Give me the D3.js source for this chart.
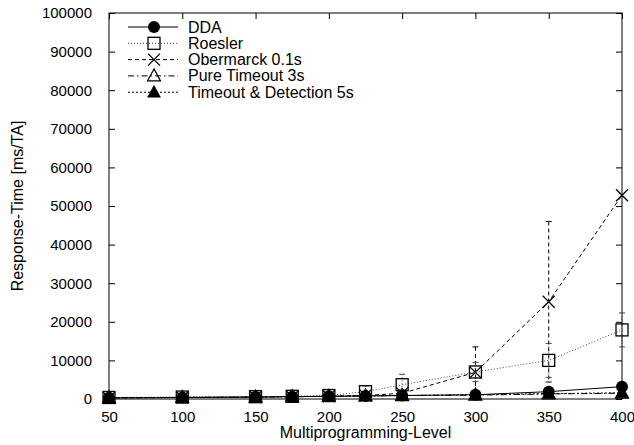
<!DOCTYPE html>
<html>
<head>
<meta charset="utf-8">
<script src="https://cdn.jsdelivr.net/npm/d3@7"></script>
<style>
  html, body { margin: 0; padding: 0; background: #fff; }
  svg text { font-family: "Liberation Sans", Arial, Helvetica, sans-serif; fill: #000; }
</style>
</head>
<body>
<svg id="chart" width="634" height="445"></svg>
<script>
// Multiprogramming levels measured
const levels = [50, 100, 150, 175, 200, 225, 250, 300, 350, 400];

// Mean response time per transaction [ms/TA]
const dda        = [300, 400, 500, 600, 700, 800, 900, 1100, 1900, 3200];
const roesler    = [400, 500, 600, 700, 900, 1900, 3700, 7000, 10000, 17900];
const obermarck  = [300, 400, 500, 600, 700, 900, 1500, 6900, 25200, 52800];
const pureTo     = [300, 400, 500, 600, 700, 800, 900, 1000, 1300, 1500];
const toDetect   = [300, 400, 500, 600, 700, 800, 900, 1100, 1400, 1600];

// Half-widths of the error bars
const ddaErr       = [0, 0, 0, 0, 100, 100, 100, 200, 300, 400];
const roeslerErr   = [0, 0, 100, 100, 300, 1500, 2700, 2500, 4400, 4400];
const obermarckErr = [0, 0, 0, 100, 200, 300, 800, 6600, 20800, 0];
const pureToErr    = [0, 0, 0, 0, 0, 0, 100, 100, 200, 200];
const toDetectErr  = [0, 0, 0, 0, 0, 0, 100, 100, 200, 200];

const seriesNames = ["DDA", "Roesler", "Obermarck 0.1s", "Pure Timeout 3s", "Timeout & Detection 5s"];
const xTicks = [50, 100, 150, 200, 250, 300, 350, 400];
const yTicks = [0, 10000, 20000, 30000, 40000, 50000, 60000, 70000, 80000, 90000, 100000];

const series = [
  { name: seriesNames[0], values: dda,       err: ddaErr,       dash: null,        stroke: "#000", marker: "circle" },
  { name: seriesNames[1], values: roesler,   err: roeslerErr,   dash: "1,2",       stroke: "#444", marker: "square" },
  { name: seriesNames[2], values: obermarck, err: obermarckErr, dash: "4,3",       stroke: "#000", marker: "cross" },
  { name: seriesNames[3], values: pureTo,    err: pureToErr,    dash: "6,3,1.5,3", stroke: "#000", marker: "triOpen" },
  { name: seriesNames[4], values: toDetect,  err: toDetectErr,  dash: "2,2",       stroke: "#000", marker: "triFill" }
];

const svg = d3.select("#chart");
const box = { left: 109, right: 622, top: 13, bottom: 399 };
const fs = 16;      // titles and legend
const tickFs = 15;  // tick labels

const x = d3.scaleLinear().domain([50, 400]).range([box.left, box.right]);
const y = d3.scaleLinear().domain([0, 100000]).range([box.bottom, box.top]);

const g = svg.append("g");

// plot frame
g.append("rect")
  .attr("x", box.left).attr("y", box.top)
  .attr("width", box.right - box.left).attr("height", box.bottom - box.top)
  .attr("fill", "none").attr("stroke", "#000").attr("stroke-width", 1);

// inward ticks on all four sides
const tl = 6;
const bottomAxis = d3.axisBottom(x).tickValues(xTicks).tickSize(-tl).tickPadding(12).tickFormat(d3.format("d"));
const topAxis = d3.axisTop(x).tickValues(xTicks).tickSize(-tl).tickFormat("");
const leftAxis = d3.axisLeft(y).tickValues(yTicks).tickSize(-tl).tickPadding(17).tickFormat(d3.format("d"));
const rightAxis = d3.axisRight(y).tickValues(yTicks).tickSize(-tl).tickFormat("");

function styleAxis(sel) {
  sel.select(".domain").remove();
  sel.selectAll(".tick line").attr("stroke", "#000");
  sel.selectAll(".tick text").attr("font-size", tickFs).attr("font-family", "Liberation Sans, Arial, sans-serif");
}
g.append("g").attr("transform", `translate(0,${box.bottom})`).call(bottomAxis).call(styleAxis);
g.append("g").attr("transform", `translate(0,${box.top})`).call(topAxis).call(styleAxis);
g.append("g").attr("transform", `translate(${box.left},0)`).call(leftAxis).call(styleAxis);
g.append("g").attr("transform", `translate(${box.right},0)`).call(rightAxis).call(styleAxis);

// axis titles
g.append("text")
  .attr("x", (box.left + box.right) / 2).attr("y", 438)
  .attr("text-anchor", "middle").attr("font-size", fs)
  .text("Multiprogramming-Level");
g.append("text")
  .attr("transform", `translate(23,${(box.top + box.bottom) / 2}) rotate(-90)`)
  .attr("text-anchor", "middle").attr("font-size", fs)
  .text("Response-Time [ms/TA]");

function drawMarker(sel, type, cx, cy) {
  if (type === "circle") {
    sel.append("circle").attr("cx", cx).attr("cy", cy).attr("r", 6).attr("fill", "#000");
  } else if (type === "square") {
    sel.append("rect").attr("x", cx - 6).attr("y", cy - 6).attr("width", 12).attr("height", 12)
      .attr("fill", "none").attr("stroke", "#000").attr("stroke-width", 1.3);
  } else if (type === "cross") {
    sel.append("path").attr("d", `M${cx - 6},${cy - 6}L${cx + 6},${cy + 6}M${cx - 6},${cy + 6}L${cx + 6},${cy - 6}`)
      .attr("stroke", "#000").attr("stroke-width", 1.3).attr("fill", "none");
  } else if (type === "triOpen" || type === "triFill") {
    const fill = type === "triFill";
    sel.append("path").attr("d", `M${cx},${cy - 7}L${cx + 6.5},${cy + 5}L${cx - 6.5},${cy + 5}Z`)
      .attr("fill", fill ? "#000" : "none").attr("stroke", "#000").attr("stroke-width", fill ? 0.5 : 1.2);
  }
}

const plot = g.append("g");
const line = d3.line().x(d => x(d[0])).y(d => y(d[1]));

// draw in reverse so DDA sits on top
series.slice().reverse().forEach(s => {
  const pts = levels.map((lv, i) => [lv, s.values[i]]);
  const sg = plot.append("g");
  sg.append("path").attr("d", line(pts))
    .attr("fill", "none").attr("stroke", s.stroke).attr("stroke-width", 1)
    .attr("stroke-dasharray", s.dash);
  // error bars
  levels.forEach((lv, i) => {
    const e = s.err[i];
    if (e <= 0) return;
    const cx = x(lv), y1 = y(s.values[i] + e), y0 = y(Math.max(0, s.values[i] - e));
    sg.append("line").attr("x1", cx).attr("x2", cx).attr("y1", y1).attr("y2", y0)
      .attr("stroke", s.stroke).attr("stroke-width", 1).attr("stroke-dasharray", s.dash);
    [y1, y0].forEach(yy => sg.append("line")
      .attr("x1", cx - 3).attr("x2", cx + 3).attr("y1", yy).attr("y2", yy)
      .attr("stroke", s.stroke).attr("stroke-width", 1));
  });
  levels.forEach((lv, i) => drawMarker(sg, s.marker, x(lv), y(s.values[i])));
});

// legend
const legend = g.append("g");
series.forEach((s, i) => {
  const ly = 27 + i * 16.3;
  legend.append("line").attr("x1", 128).attr("x2", 178).attr("y1", ly).attr("y2", ly)
    .attr("stroke", s.stroke).attr("stroke-width", 1).attr("stroke-dasharray", s.dash);
  drawMarker(legend, s.marker, 154, ly);
  legend.append("text").attr("x", 188).attr("y", ly + 5.5).attr("font-size", fs).text(s.name);
});
</script>
</body>
</html>
